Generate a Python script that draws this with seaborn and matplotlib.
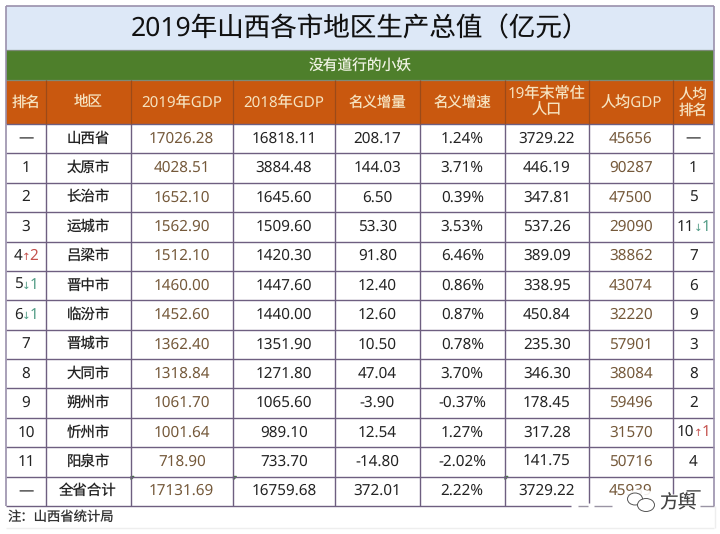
import numpy as np
import matplotlib
matplotlib.use("Agg")
import matplotlib.pyplot as plt
import seaborn as sns
from matplotlib.colors import ListedColormap
from matplotlib.patches import Ellipse, Polygon

sns.set_theme(style="white")
plt.rcParams["font.family"] = ["Noto Sans", "Noto Sans CJK SC", "DejaVu Sans"]
plt.rcParams["text.hinting"] = "none"

W, H = 720, 534

title = "2019年山西各市地区生产总值（亿元）"
subtitle = "没有道行的小妖"
note = "注：山西省统计局"
headers = ["排名", "地区", "2019年GDP", "2018年GDP", "名义增量", "名义增速",
           "19年末常住\n人口", "人均GDP", "人均\n排名"]

ranks = ["—", "1", "2", "3", "", "", "", "7", "8", "9", "10", "11", "—"]
regions = ["山西省", "太原市", "长治市", "运城市", "吕梁市", "晋中市", "临汾市",
           "晋城市", "大同市", "朔州市", "忻州市", "阳泉市", "全省合计"]
gdp_2019 = ["17026.28", "4028.51", "1652.10", "1562.90", "1512.10", "1460.00", "1452.60",
            "1362.40", "1318.84", "1061.70", "1001.64", "718.90", "17131.69"]
gdp_2018 = ["16818.11", "3884.48", "1645.60", "1509.60", "1420.30", "1447.60", "1440.00",
            "1351.90", "1271.80", "1065.60", "989.10", "733.70", "16759.68"]
increase = ["208.17", "144.03", "6.50", "53.30", "91.80", "12.40", "12.60",
            "10.50", "47.04", "-3.90", "12.54", "-14.80", "372.01"]
growth = ["1.24%", "3.71%", "0.39%", "3.53%", "6.46%", "0.86%", "0.87%",
          "0.78%", "3.70%", "-0.37%", "1.27%", "-2.02%", "2.22%"]
population = ["3729.22", "446.19", "347.81", "537.26", "389.09", "338.95", "450.84",
              "235.30", "346.30", "178.45", "317.28", "141.75", "3729.22"]
per_capita = ["45656", "90287", "47500", "29090", "38862", "43074", "32220",
              "57901", "38084", "59496", "31570", "50716", "45939"]
per_rank = ["—", "1", "5", "", "7", "6", "9", "3", "8", "2", "", "4", "—"]

# rank labels with a coloured change marker: (row, column, number, arrow, change)
rank_moves = [(4, 0, "4", "↑", "2"), (5, 0, "5", "↓", "1"), (6, 0, "6", "↓", "1"),
              (3, 8, "11", "↓", "1"), (10, 8, "10", "↑", "1")]

x_edges = [6, 46, 130.5, 233, 335, 420, 504.5, 589, 673, 714]
y_title = [6, 50, 79.5, 124]
y_rows = [124, 153, 182.5, 212, 241.5, 270.5, 300, 329.5, 358.5, 388, 417.5, 447, 476.5, 506]

TEXT = "#232323"
BROWN = "#75593a"
HEAD = "#f6e3c0"
ORANGE = "#c9580f"
GREEN = "#4e7f2b"
PALE = "#dde8f7"
GRID = "#6e5f80"
UP = "#c4504c"
DOWN = "#4f9a84"


def px_axes(fig, x0, x1, y0, y1):
    return fig.add_axes([x0 / W, 1 - y1 / H, (x1 - x0) / W, (y1 - y0) / H])


def cell_column(fig, x0, x1, y0, y1, labels, bg, color, size, **kw):
    # one heatmap per column so the widths can differ
    ax = px_axes(fig, x0, x1, y0, y1)
    labels = np.array(labels, dtype=object).reshape(-1, 1)
    sns.heatmap(np.zeros(labels.shape), ax=ax, cmap=ListedColormap([bg]), cbar=False,
                annot=labels, fmt="", xticklabels=False, yticklabels=False,
                annot_kws={"color": color, "fontsize": size, **kw})
    return ax


def nudge(ax, px):
    # heatmap y runs downward in cell units
    per_cell = (ax.get_position().height * H) / abs(ax.get_ylim()[0] - ax.get_ylim()[1])
    for t in ax.texts:
        t.set_y(t.get_position()[1] + px / per_cell)


fig = plt.figure(figsize=(W / 100, H / 100), dpi=100, facecolor="#ffffff")

nudge(cell_column(fig, 6, 714, y_title[0], y_title[1], [title], PALE, "#111111", 19.1), 1.5)
nudge(cell_column(fig, 6, 714, y_title[1], y_title[2], [subtitle], GREEN, "#eef2e2", 10.6), 1.5)

columns = [ranks, regions, gdp_2019, gdp_2018, increase, growth, population, per_capita, per_rank]
for i, labels in enumerate(columns):
    head_size = 10.9 if i in (2, 3, 6, 7) else 10.4
    nudge(cell_column(fig, x_edges[i], x_edges[i + 1], y_title[2], y_title[3], [headers[i]],
                      ORANGE, HEAD, head_size, linespacing=1.15), 1)
    color = BROWN if i in (2, 7) else TEXT
    body_size = 10.4 if i == 1 else 11
    cell_column(fig, x_edges[i], x_edges[i + 1], y_rows[0], y_rows[-1], labels,
                "#ffffff", color, body_size)

# overlay in pixel coordinates for rules, markers and the watermark
ov = fig.add_axes([0, 0, 1, 1])
ov.set_xlim(0, W)
ov.set_ylim(H, 0)
ov.axis("off")
ov.patch.set_alpha(0)

ov.hlines(y_rows[:-1], 6, 714, color=GRID, lw=1.0)
ov.hlines(506, 6, 571, color=GRID, lw=1.0)
ov.hlines([y_title[1], y_title[2]], 6, 714, color="#7d8a78", lw=0.9)
ov.vlines(x_edges[1:7], y_rows[0], y_rows[-1], color=GRID, lw=1.0)
ov.vlines(x_edges[7], y_rows[0], 503, color=GRID, lw=1.0)
ov.vlines(x_edges[8], y_rows[0], 494, color=GRID, lw=1.0)
ov.vlines(x_edges[1:-1], y_title[2], y_title[3], color="#9c4a18", lw=0.9)
ov.vlines([6, 714], 6, 506, color="#9a90ac", lw=1.2)
ov.hlines(6, 6, 714, color="#9a90ac", lw=1.2)
ov.hlines(528, 6, 714, color="#eeeeee", lw=1.0)
ov.vlines(715, 506, 528, color="#eeeeee", lw=1.0)

for row, col, num, arrow, change in rank_moves:
    xc = (x_edges[col] + x_edges[col + 1]) / 2
    yc = (y_rows[row] + y_rows[row + 1]) / 2
    mark = UP if arrow == "↑" else DOWN
    num_w = 8.6 * len(num)
    left = xc - (num_w + 15.6) / 2
    ov.text(left, yc, num, color=TEXT, fontsize=11, ha="left", va="center")
    ov.text(left + num_w + 3.5, yc + 1, arrow, color=mark, fontsize=7.5, ha="center", va="center",
            family=["DejaVu Sans"])
    ov.text(left + num_w + 7, yc, change, color=mark, fontsize=11, ha="left", va="center")

# small green error triangles in the bottom row
for xt in (x_edges[2], x_edges[3], x_edges[6]):
    ov.add_patch(Polygon([[xt + 0.5, 476.5], [xt + 3.5, 476.5], [xt + 0.5, 479.5]], color="#3f7a3a"))

ov.text(8, 517.5, note, color="#333333", fontsize=9.6, ha="left", va="center")

# watermark: white halo over the table corner, then icon and name
ov.add_patch(Ellipse((640, 498), 34, 17, color="#ffffff", alpha=0.9, lw=0))
ov.hlines([506, 506, 506], [578, 594, 700], [588, 612, 714], color="#9a94a4", lw=1.0)
ov.add_patch(Ellipse((635, 499), 15, 12, fc="#ffffff", ec="#555555", lw=0.7))
ov.add_patch(Ellipse((646, 505), 17, 13, fc="#ffffff", ec="#555555", lw=0.7))
ov.text(678, 504, "方舆", color="#444444", fontsize=13.5, ha="center", va="center")

fig.savefig("out.png", dpi=100)
